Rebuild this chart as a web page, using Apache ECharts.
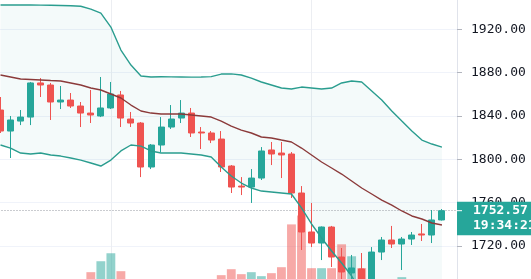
<!DOCTYPE html>
<html><head><meta charset="utf-8">
<script src="https://cdn.jsdelivr.net/npm/echarts@6/dist/echarts.min.js"></script>
<style>html,body{margin:0;padding:0;background:#fff}#c{width:531px;height:279px}</style>
</head><body><div id="c"></div>
<script>
const dates = ['2021-01-15','2021-01-18','2021-01-19','2021-01-20','2021-01-21','2021-01-22','2021-01-25','2021-01-26','2021-01-27','2021-01-28','2021-01-29','2021-02-01','2021-02-02','2021-02-03','2021-02-04','2021-02-05','2021-02-08','2021-02-09','2021-02-10','2021-02-11','2021-02-12','2021-02-15','2021-02-16','2021-02-17','2021-02-18','2021-02-19','2021-02-22','2021-02-23','2021-02-24','2021-02-25','2021-02-26','2021-03-01','2021-03-02','2021-03-03','2021-03-04','2021-03-05','2021-03-08','2021-03-09','2021-03-10','2021-03-11','2021-03-12','2021-03-15','2021-03-16','2021-03-17','2021-03-18','2021-03-19'];
const opens  = [1845.5,1826.1,1835.3,1839.0,1870.5,1868.6,1852.9,1854.7,1849.2,1842.7,1840.0,1847.4,1859.4,1837.2,1833.5,1792.9,1813.2,1829.8,1838.1,1842.7,1825.2,1824.3,1818.7,1793.8,1775.3,1774.4,1782.7,1808.6,1805.8,1804.9,1768.9,1732.9,1722.7,1737.5,1709.8,1695.1,1698.8,1685.0,1714.4,1725.5,1721.8,1726.4,1731.1,1730.1,1744.0];
const closes = [1826.1,1836.3,1839.0,1870.5,1868.6,1852.9,1854.7,1849.2,1842.7,1840.9,1847.4,1860.3,1838.1,1833.5,1792.9,1813.2,1829.8,1837.2,1842.7,1824.3,1824.3,1817.8,1792.9,1774.4,1774.4,1782.7,1807.7,1804.9,1804.0,1768.9,1732.9,1722.7,1737.5,1709.8,1696.0,1699.7,1684.9,1714.4,1725.5,1721.8,1726.4,1730.1,1730.1,1744.0,1752.57];
const lows   = [1824.3,1801.2,1831.6,1831.6,1857.5,1836.3,1846.4,1847.4,1829.8,1833.5,1839.0,1846.4,1829.8,1829.8,1783.6,1791.0,1806.7,1828.0,1833.5,1820.6,1809.5,1815.0,1788.3,1768.9,1767.0,1759.7,1780.9,1794.7,1782.7,1764.3,1716.3,1719.0,1707.0,1700.6,1684.9,1679.4,1677.5,1680.0,1707.0,1718.1,1697.8,1720.9,1724.6,1722.7,1743.5];
const highs  = [1857.5,1840.0,1845.5,1871.4,1875.0,1870.5,1867.7,1861.2,1852.9,1864.0,1876.0,1871.4,1863.1,1843.7,1834.4,1814.1,1839.0,1850.1,1854.7,1847.4,1829.8,1826.1,1826.1,1794.7,1783.6,1791.0,1811.3,1816.0,1816.0,1806.7,1775.3,1759.7,1738.0,1738.5,1718.1,1711.7,1713.5,1719.0,1728.3,1738.5,1728.3,1732.9,1740.3,1753.2,1754.1];
const volumes = [4200,5100,3900,5600,4300,4800,3600,3800,4700,7400,9600,11200,7600,5200,5800,5500,4600,4100,3900,4400,3500,2900,6800,8000,7000,7400,6600,7200,8400,17000,18800,8200,8200,8200,13000,10600,8200,5900,5400,4800,6400,4600,4200,5700,2500];
const bbUpper = [1942.4,1942.6,1942.5,1942.5,1942.3,1942.2,1942.0,1941.8,1941.3,1938.7,1935.0,1922.1,1900.9,1887.0,1876.9,1876.0,1876.2,1876.1,1876.0,1875.9,1876.0,1876.3,1878.7,1878.9,1877.8,1875.0,1871.4,1868.6,1865.8,1864.9,1866.7,1865.8,1864.9,1865.8,1870.5,1872.3,1871.4,1863.1,1854.7,1844.6,1835.3,1826.1,1817.8,1814.1,1811.3];
const bbBasis = [1877.8,1876.0,1874.1,1873.7,1873.2,1872.7,1872.3,1870.5,1868.6,1865.8,1864.0,1860.3,1856.6,1850.1,1844.6,1842.7,1841.8,1841.8,1841.8,1840.9,1840.0,1839.0,1835.3,1830.7,1827.0,1824.3,1820.6,1819.7,1817.8,1816.0,1810.4,1804.0,1797.5,1792.0,1786.4,1780.0,1773.5,1768.0,1762.4,1757.8,1752.3,1747.7,1744.9,1741.2,1739.4];
const bbLower = [1813.2,1810.4,1805.8,1804.9,1805.8,1804.0,1803.0,1801.2,1799.3,1796.6,1793.8,1799.3,1807.7,1813.2,1812.2,1807.7,1805.8,1805.8,1805.8,1804.9,1804.0,1802.1,1792.9,1784.6,1778.1,1773.5,1770.7,1769.8,1768.9,1768.0,1755.1,1740.3,1727.4,1715.4,1704.3,1692.3,1675.7,1672.9,1670.2,1671.1,1669.2,1669.2,1672.0,1668.3,1667.4];
const yTicks = [1680,1720,1760,1800,1840,1880,1920,1960];
const monthStarts = ['2021-02-01','2021-03-01'];
const countdown = '19:34:21';

const UP = '#26a69a', DOWN = '#ef5350';
const MONO = '"DejaVu Sans Mono", monospace';
const chart = echarts.init(document.getElementById('c'), null, {renderer:'canvas', width:531, height:279});
const candleData = opens.map((o,i)=>[o, closes[i], lows[i], highs[i]]);
const volData = volumes.map((v,i)=>({value:v, itemStyle:{color: closes[i]>=opens[i] ? 'rgba(38,166,154,0.5)' : 'rgba(239,83,80,0.5)'}}));
const bandWidth = bbUpper.map((u,i)=>+(u-bbLower[i]).toFixed(2));
const last = closes[closes.length-1];

chart.setOption({
  animation:false,
  grid:[
    {left:-4.5, right:74, top:-14, bottom:-10.3, outerBoundsMode:'none', containLabel:false},
    {left:-4.5, right:74, top:100, bottom:-30, outerBoundsMode:'none', containLabel:false}
  ],
  xAxis:[
    {type:'category', data:dates, gridIndex:0, boundaryGap:true, axisLine:{show:false}, axisTick:{show:false}, axisLabel:{show:false}, splitLine:{show:false}},
    {type:'category', data:dates, gridIndex:1, boundaryGap:true, show:false}
  ],
  yAxis:[
    {type:'value', gridIndex:0, position:'right', min:yTicks[0], max:yTicks[yTicks.length-1], interval:yTicks[1]-yTicks[0],
     axisLine:{show:true, lineStyle:{color:'#e0e3eb', width:1}},
     axisTick:{show:true, length:5, lineStyle:{color:'#b2b5be'}},
     splitLine:{show:true, lineStyle:{color:'#f0f3fa', width:1}},
     axisLabel:{color:'#131722', fontFamily:MONO, fontSize:13, margin:14, formatter:v=>v.toFixed(2)}},
    {type:'value', gridIndex:1, min:0, max:42000, show:false}
  ],
  series:[
    {name:'bbBase', type:'line', stack:'bb', data:bbLower, symbol:'none', lineStyle:{opacity:0}, z:0, silent:true,
     markLine:{z:0, silent:true, symbol:['none','none'], label:{show:false},
       lineStyle:{color:'#eceef2', type:'solid', width:1},
       data: monthStarts.map(d=>({xAxis:d}))}},
    {name:'bbFill', type:'line', stack:'bb', data:bandWidth, symbol:'none', lineStyle:{opacity:0}, z:0, silent:true,
     areaStyle:{color:'rgba(0,128,128,0.06)'}},
    {name:'Volume', type:'bar', xAxisIndex:1, yAxisIndex:1, data:volData, barCategoryGap:'12%', z:1, silent:true},
    {name:'Price', type:'candlestick', data:candleData, barWidth:6.5, z:3,
     itemStyle:{color:UP, color0:DOWN, borderColor:UP, borderColor0:DOWN, borderWidth:1},
     markLine:{z:2, silent:true, symbol:['none','none'], label:{show:false},
       lineStyle:{color:'#9598a1', type:[1,2], width:1},
       data:[{yAxis:last}]}},
    {name:'Upper', type:'line', data:bbUpper, symbol:'none', z:4, lineStyle:{color:'#2a9d8f', width:1.4}},
    {name:'Lower', type:'line', data:bbLower, symbol:'none', z:4, lineStyle:{color:'#2a9d8f', width:1.4}},
    {name:'Basis', type:'line', data:bbBasis, symbol:'none', z:4, lineStyle:{color:'#8b3a3a', width:1.4}}
  ]
});

const py = chart.convertToPixel({yAxisIndex:0}, last);
const axisX = 531 - 74;
chart.setOption({
  graphic:[
    {type:'rect', z:100, shape:{x:axisX, y:py-9, width:80, height:33.5}, style:{fill:'#26a69a'}},
    {type:'line', z:101, shape:{x1:axisX, y1:py, x2:axisX+5, y2:py}, style:{stroke:'#ffffff', lineWidth:1}},
    {type:'text', z:101, x:axisX+16, y:py, style:{text:last.toFixed(2), fill:'#ffffff', font:'bold 13px '+MONO, verticalAlign:'middle', align:'left'}},
    {type:'text', z:101, x:axisX+16, y:py+15, style:{text:countdown, fill:'#ffffff', font:'bold 13px '+MONO, verticalAlign:'middle', align:'left'}}
  ]
});
</script>
</body></html>
